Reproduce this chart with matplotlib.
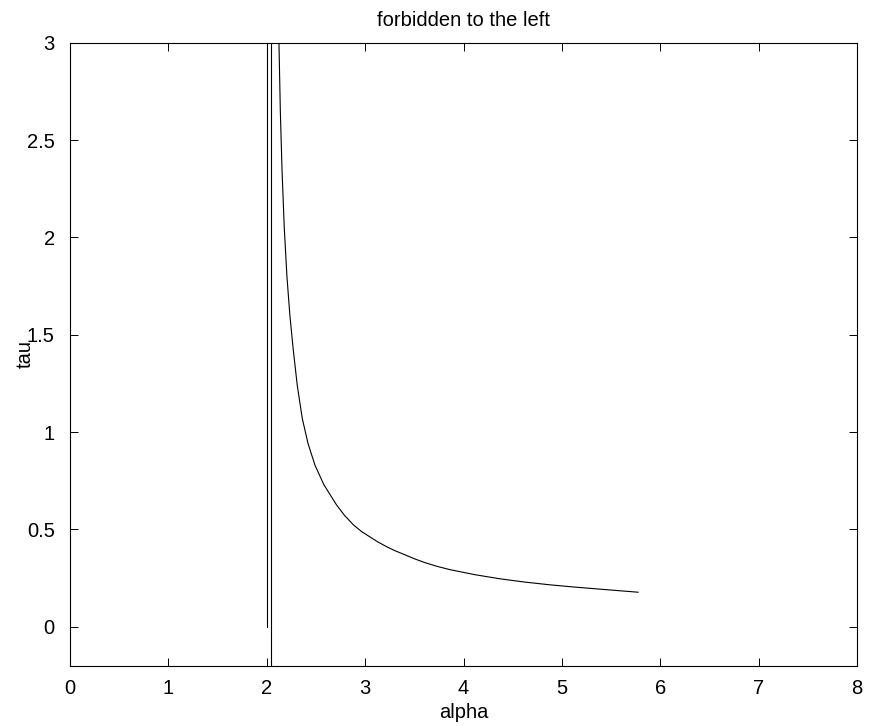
import matplotlib
matplotlib.use("Agg")
import matplotlib.pyplot as plt

# curve
alpha = [2.124, 2.138, 2.155, 2.178, 2.205, 2.235, 2.270, 2.310, 2.361, 2.420,
         2.490, 2.580, 2.710, 2.790, 2.879, 2.960, 3.049, 3.130, 3.218, 3.300,
         3.387, 3.500, 3.608, 3.730, 3.862, 4.116, 4.370, 4.624, 4.878, 5.115,
         5.454, 5.775]
tau = [3.0, 2.65, 2.35, 2.05, 1.80, 1.60, 1.42, 1.24, 1.07, 0.94,
       0.83, 0.73, 0.625, 0.572, 0.524, 0.490, 0.461, 0.435, 0.411, 0.391,
       0.373, 0.349, 0.329, 0.310, 0.293, 0.267, 0.246, 0.229, 0.215, 0.204,
       0.190, 0.177]

# vertical lines
line1_x = [2.0, 2.0]
line1_y = [0.0, 3.2]
line2_x = [2.046, 2.046]
line2_y = [-0.3, 3.2]

plt.rcParams['font.family'] = ['Liberation Sans', 'DejaVu Sans']

fig = plt.figure(figsize=(8.71, 7.26), dpi=100)
ax = fig.add_axes([70 / 871, 1 - 665.6 / 726, 787 / 871, (665.6 - 42.7) / 726])

ax.plot(line1_x, line1_y, color='black', lw=0.8)
ax.plot(line2_x, line2_y, color='black', lw=0.8)
ax.plot(alpha, tau, color='black', lw=0.8)

ax.set_xlim(0, 8)
ax.set_ylim(-0.2, 3)
ax.set_xticks(range(0, 9))
ax.set_yticks([0, 0.5, 1, 1.5, 2, 2.5, 3])
ax.set_yticklabels(['0', '0.5', '1', '1.5', '2', '2.5', '3'])
ax.tick_params(direction='in', length=6, width=0.7, top=True, right=True,
               labelsize=14.5)
ax.tick_params(axis='x', pad=10)
ax.tick_params(axis='y', pad=11)
for s in ax.spines.values():
    s.set_linewidth(0.8)

ax.set_title('forbidden to the left', fontsize=14.5, pad=12)
ax.set_xlabel('alpha', fontsize=14.5, labelpad=3)
ax.set_ylabel('tau', fontsize=14.5, labelpad=-6)

fig.savefig('out.png', dpi=100)
